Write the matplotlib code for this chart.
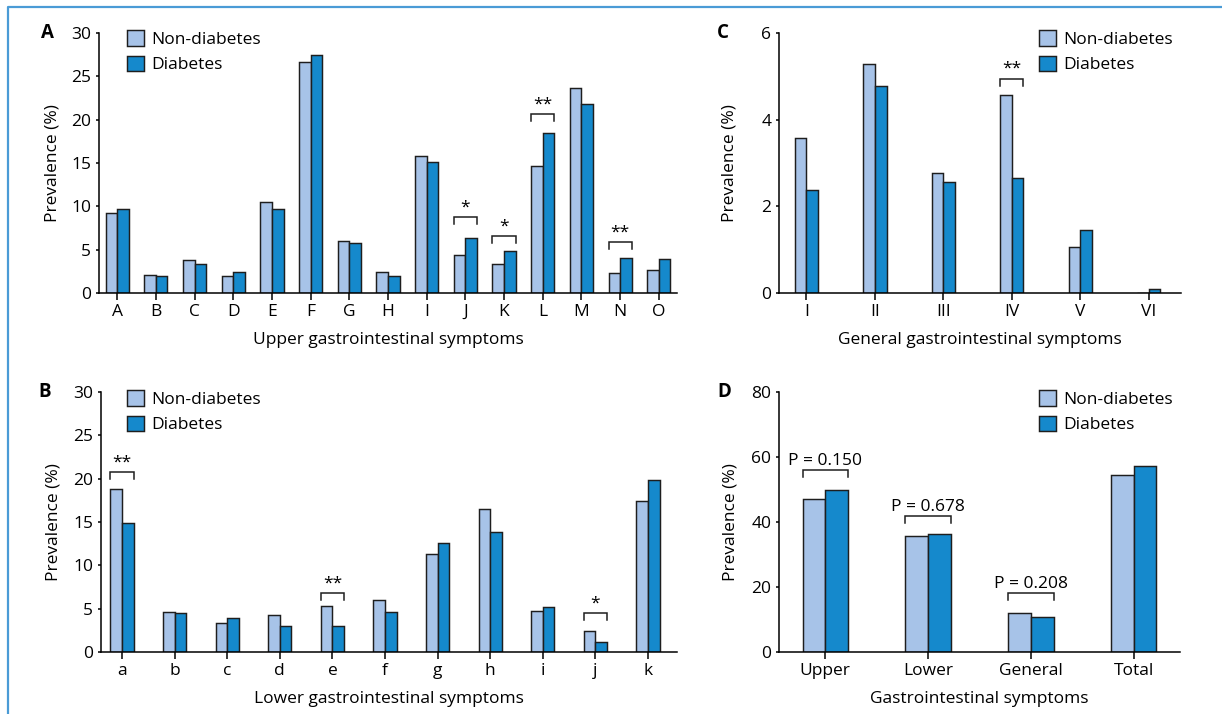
import matplotlib
matplotlib.use("Agg")
import numpy as np
import matplotlib.pyplot as plt
from matplotlib.patches import Patch
from matplotlib.lines import Line2D

plt.rcParams["font.family"] = ["Open Sans", "DejaVu Sans"]
plt.rcParams["font.size"] = 12.5

LIGHT = "#a7c3e8"
DARK = "#1589cc"
EDGE = "#1e1e1e"
FRAME = "#4a9bd6"

# Panel A - upper GI symptoms
upper_labels = list("ABCDEFGHIJKLMNO")
upper_non = [9.2, 2.1, 3.8, 2.0, 10.5, 26.6, 6.0, 2.4, 15.8, 4.4, 3.3, 14.6, 23.7, 2.3, 2.6]
upper_dia = [9.7, 2.0, 3.4, 2.4, 9.7, 27.5, 5.8, 2.0, 15.1, 6.3, 4.9, 18.5, 21.8, 4.0, 3.9]
upper_sig = [("J", "*", 8.8), ("K", "*", 6.6), ("L", "**", 20.6), ("N", "**", 5.9)]

# Panel B - lower GI symptoms
lower_labels = list("abcdefghijk")
lower_non = [18.8, 4.6, 3.4, 4.3, 5.3, 6.0, 11.3, 16.5, 4.7, 2.4, 17.4]
lower_dia = [14.9, 4.5, 3.9, 3.0, 3.0, 4.6, 12.6, 13.8, 5.2, 1.2, 19.9]
lower_sig = [("a", "**", 20.8), ("e", "**", 6.8), ("j", "*", 4.5)]

# Panel C - general GI symptoms
general_labels = ["I", "II", "III", "IV", "V", "VI"]
general_non = [3.58, 5.29, 2.77, 4.56, 1.06, 0.0]
general_dia = [2.37, 4.78, 2.56, 2.66, 1.46, 0.1]
general_sig = [("IV", "**", 4.95)]

# Panel D - overall
total_labels = ["Upper", "Lower", "General", "Total"]
total_non = [47.1, 35.8, 12.0, 54.4]
total_dia = [50.0, 36.3, 10.7, 57.3]
total_sig = [("Upper", "P = 0.150", 56.0), ("Lower", "P = 0.678", 41.8), ("General", "P = 0.208", 18.1)]

W, H = 1222, 714
fig = plt.figure(figsize=(W / 100, H / 100), dpi=100)


def px_axes(left, right, top, bottom):
    return fig.add_axes([left / W, 1 - bottom / H, (right - left) / W, (bottom - top) / H])


def panel(ax, letter, labels, non, dia, sig, width, xlim, ymax, ystep, xlabel,
          legend_xy, letter_x, ylabel_x, sig_pad=1.0):
    x = np.arange(len(labels))
    ax.bar(x - width / 2, non, width, color=LIGHT, edgecolor=EDGE, linewidth=1.05)
    ax.bar(x + width / 2, dia, width, color=DARK, edgecolor=EDGE, linewidth=1.05)
    ax.set_xlim(*xlim)
    ax.set_ylim(0, ymax)
    ax.set_xticks(x)
    ax.set_xticklabels(labels)
    ax.set_yticks(np.arange(0, ymax + ystep / 2, ystep))
    for s in ["top", "right"]:
        ax.spines[s].set_visible(False)
    for s in ["left", "bottom"]:
        ax.spines[s].set_linewidth(1.1)
    ax.tick_params(axis="x", length=5, width=1.1, pad=3)
    ax.tick_params(axis="y", length=2.5, width=1.1, pad=3)
    ax.set_xlabel(xlabel, va="center")
    ax.xaxis.set_label_coords(0.5, -0.181)
    ax.set_ylabel("Prevalence (%)", va="center")
    ax.yaxis.set_label_coords(ylabel_x, 0.5)
    ax.text(letter_x, 1.0, letter, transform=ax.transAxes, fontweight="bold",
            fontsize=13.5, ha="center", va="center")

    leg = ymax * 0.027
    for name, txt, y in sig:
        i = labels.index(name)
        ax.plot([i - width, i - width, i + width, i + width], [y - leg, y, y, y - leg],
                color=EDGE, linewidth=1.1, solid_joinstyle="miter")
        ax.annotate(txt, (i, y), xytext=(0, sig_pad), textcoords="offset points",
                    ha="center", va="bottom")

    handles = [Patch(facecolor=LIGHT, edgecolor=EDGE, linewidth=1.05),
               Patch(facecolor=DARK, edgecolor=EDGE, linewidth=1.05)]
    ax.legend(handles, ["Non-diabetes", "Diabetes"], loc="upper left",
              bbox_to_anchor=(legend_xy[0] / W, 1 - legend_xy[1] / H),
              bbox_transform=fig.transFigure, frameon=False,
              handlelength=1.0, handleheight=1.0, handletextpad=0.4,
              labelspacing=0.45, borderaxespad=0, borderpad=0)


axA = px_axes(99, 677, 33, 293)
panel(axA, "A", upper_labels, upper_non, upper_dia, upper_sig, 0.3, (-0.47, 14.47),
      30, 5, "Upper gastrointestinal symptoms", (127, 30), -0.09, -0.08)

axC = px_axes(779, 1181, 33, 293)
panel(axC, "C", general_labels, general_non, general_dia, general_sig, 0.17, (-0.4, 5.47),
      6, 2, "General gastrointestinal symptoms", (1039, 30), -0.139, -0.122)

axB = px_axes(101, 677, 392, 652)
panel(axB, "B", lower_labels, lower_non, lower_dia, lower_sig, 0.22, (-0.4, 10.55),
      30, 5, "Lower gastrointestinal symptoms", (127, 390), -0.098, -0.083)

axD = px_axes(779, 1180, 392, 652)
panel(axD, "D", total_labels, total_non, total_dia, total_sig, 0.22, (-0.45, 3.45),
      80, 20, "Gastrointestinal symptoms", (1039, 390), -0.137, -0.122)

# blue frame along the top and left edges
fig.add_artist(Line2D([8 / W, 8 / W, 1], [0, 1 - 7 / H, 1 - 7 / H],
                      transform=fig.transFigure, color=FRAME, linewidth=1.6))

fig.savefig("out.png", dpi=100)
